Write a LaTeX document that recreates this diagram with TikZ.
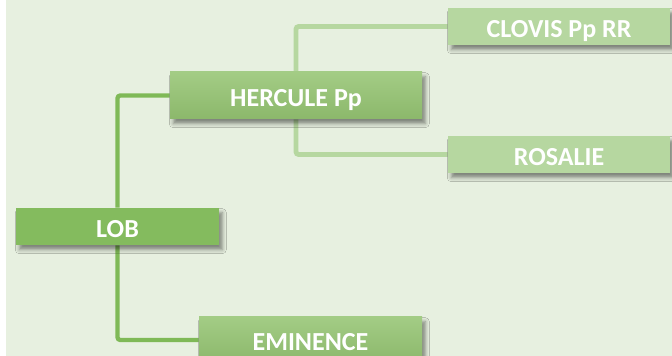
\documentclass[tikz,border=0pt]{standalone}
\usepackage{fontspec}
\setmainfont{Carlito}
\usetikzlibrary{shadows.blur,backgrounds}
\definecolor{paper}{HTML}{E7F0E0}
\definecolor{rootgreen}{HTML}{84BB5E}
\definecolor{midtop}{HTML}{A3CC85}
\definecolor{midbot}{HTML}{8CB86B}
\definecolor{leafgreen}{HTML}{B6D7A0}
\definecolor{rootline}{HTML}{7FB957}
\tikzset{
  box/.style={minimum height=37*0.75pt, inner sep=0pt, text=white,
    text height=16.5pt, text depth=0pt,
    font=\fontsize{19.5}{22}\selectfont\bfseries,
    blur shadow={shadow xshift=2.5pt, shadow yshift=-3.5pt, shadow blur radius=3pt, shadow opacity=45}},
  rootbox/.style={box, fill=rootgreen},
  midbox/.style={box, top color=midtop, bottom color=midbot},
  leafbox/.style={box, fill=leafgreen},
  rootlink/.style={draw=rootline, line width=3.2pt, rounded corners=2pt},
  leaflink/.style={draw=leafgreen, line width=3.6pt, rounded corners=2pt}
}
\begin{document}
\begin{tikzpicture}[x=0.75pt, y=-0.75pt]
  \useasboundingbox (0,0) rectangle (672,356);
  \node[rootbox, minimum width=203*0.75pt] (lob) at (117.5,226.5) {LOB};
  \node[midbox, minimum width=252*0.75pt, minimum height=47*0.75pt] (hercule) at (296,95.5) {HERCULE Pp};
  \node[midbox, minimum width=223*0.75pt, minimum height=46*0.75pt] (eminence) at (310.5,340) {EMINENCE};
  \node[leafbox, minimum width=222*0.75pt] (clovis) at (559,26.5) {CLOVIS Pp RR};
  \node[leafbox, minimum width=222*0.75pt] (rosalie) at (559,154.5) {ROSALIE};
  \begin{scope}[on background layer]
    \fill[paper] (6,0) rectangle (672,356);
    \draw[rootlink] (lob.north) |- (hercule.west);
    \draw[rootlink] (lob.south) |- (eminence.west);
    \draw[leaflink] (hercule.north) |- (clovis.west);
    \draw[leaflink] (hercule.south) |- (rosalie.west);
  \end{scope}
\end{tikzpicture}
\end{document}
